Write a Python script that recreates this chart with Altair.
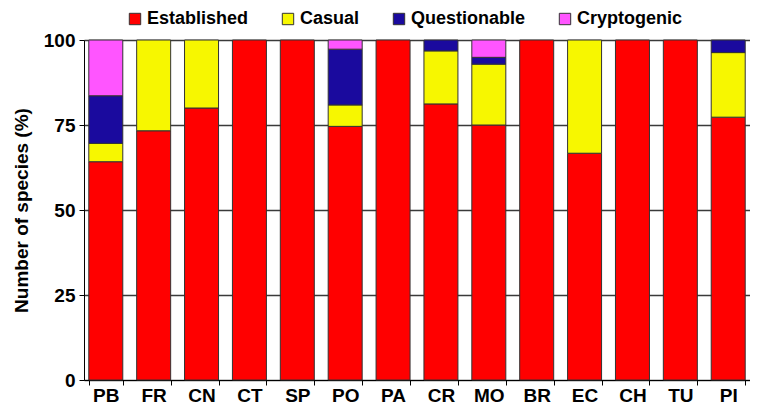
import altair as alt
import pandas as pd

categories = ["PB", "FR", "CN", "CT", "SP", "PO", "PA", "CR", "MO", "BR", "EC", "CH", "TU", "PI"]
established = [64.2, 73.3, 80.0, 100, 100, 74.6, 100, 81.2, 75.0, 100, 66.7, 100, 100, 77.3]
casual = [5.4, 26.7, 20.0, 0, 0, 6.3, 0, 15.6, 17.9, 0, 33.3, 0, 0, 19.0]
questionable = [14.0, 0, 0, 0, 0, 16.4, 0, 3.2, 2.0, 0, 0, 0, 0, 3.7]
cryptogenic = [16.4, 0, 0, 0, 0, 2.7, 0, 0, 5.1, 0, 0, 0, 0, 0]

series_names = ["Established", "Casual", "Questionable", "Cryptogenic"]
series_colors = ["#ff0000", "#f7f700", "#1a0a9e", "#ff55ff"]

rows = []
for k, (name, vals) in enumerate(zip(series_names, [established, casual, questionable, cryptogenic])):
    for c, v in zip(categories, vals):
        if v > 0:
            rows.append({"site": c, "status": name, "value": v, "rank": k})
df = pd.DataFrame(rows)

FONT = "Liberation Sans"

chart = alt.Chart(df).mark_bar(stroke="#333333", strokeWidth=1).encode(
    x=alt.X("site:N", sort=categories,
            scale=alt.Scale(paddingInner=0.29, paddingOuter=0.1),
            axis=alt.Axis(title=None, labelAngle=0, tickBand="extent", labelFont=FONT,
                          labelFontSize=19, labelFontWeight="bold", labelColor="black",
                          domainColor="black", tickColor="black", tickSize=5, labelPadding=1)),
    y=alt.Y("value:Q", stack="zero",
            scale=alt.Scale(domain=[0, 100], nice=False),
            axis=alt.Axis(title="Number of species (%)", values=[0, 25, 50, 75, 100],
                          labelFont=FONT, labelFontSize=19, labelFontWeight="bold", labelColor="black",
                          titleFont=FONT, titleFontSize=19, titleFontWeight="bold", titleColor="black",
                          titlePadding=12, grid=True, gridColor="#3a3a3a", gridWidth=1.3,
                          domainColor="black", tickColor="black", tickSize=5, labelPadding=4)),
    color=alt.Color("status:N", sort=series_names,
                    scale=alt.Scale(domain=series_names, range=series_colors),
                    legend=alt.Legend(title=None, orient="none", direction="horizontal",
                                      legendX=42, legendY=-30, symbolType="square", symbolSize=130,
                                      symbolStrokeColor="#333333", symbolStrokeWidth=1,
                                      labelFont=FONT, labelFontSize=18, labelFontWeight="bold",
                                      labelColor="black", columnPadding=30, labelOffset=3)),
    order=alt.Order("rank:Q", sort="ascending"),
).properties(
    width=666, height=340,
    autosize=alt.AutoSizeParams(type="none"),
    padding={"left": 76, "top": 32, "right": 0, "bottom": 26},
).configure_view(stroke=None).configure(background="white")

chart.save("out.html", embed_options={"renderer": "svg", "actions": False})
